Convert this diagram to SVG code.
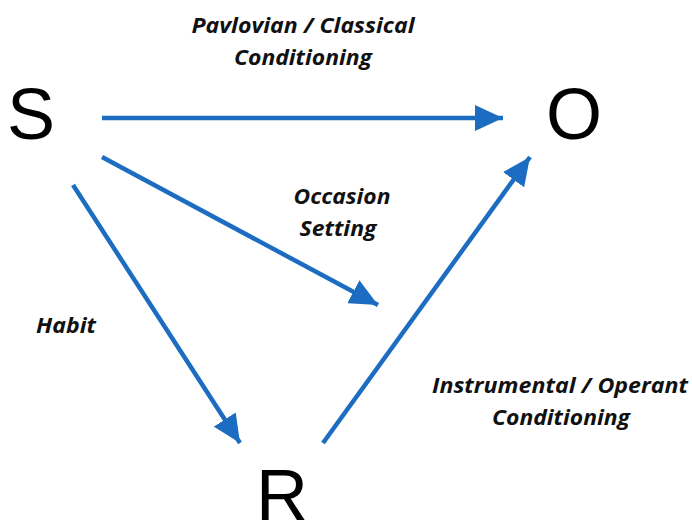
<svg xmlns="http://www.w3.org/2000/svg" width="692" height="521" viewBox="0 0 692 521">
<style>
.big{font-family:"Liberation Sans",Arial,sans-serif;font-size:72px;fill:#000;text-anchor:middle}
.lbl{font-family:"Open Sans","DejaVu Sans",sans-serif;font-size:21px;font-weight:bold;font-style:italic;fill:#111;text-anchor:middle}
.conn{stroke:#1C6DC1;stroke-width:4.5;fill:none;marker-end:url(#ah)}
</style>
<defs>
<marker id="ah" markerUnits="userSpaceOnUse" markerWidth="30" markerHeight="26" refX="28" refY="13" orient="auto" viewBox="0 0 30 26">
<path d="M0,0 L28,13 L0,26 Z" fill="#1C6DC1"/>
</marker>
</defs>
<rect width="692" height="521" fill="#fff"/>
<g id="S"><text class="big" x="31" y="139">S</text></g>
<g id="O"><text class="big" x="574" y="139">O</text></g>
<g id="R"><text class="big" x="282" y="520">R</text></g>
<g id="connectors">
<line class="conn" x1="102" y1="118" x2="503" y2="118"/>
<line class="conn" x1="102" y1="157" x2="378" y2="305"/>
<line class="conn" x1="73" y1="185" x2="240" y2="443"/>
<line class="conn" x1="323" y1="443" x2="530" y2="157"/>
</g>
<g id="labels">
<text class="lbl" x="303" y="33" textLength="223" lengthAdjust="spacingAndGlyphs">Pavlovian / Classical</text>
<text class="lbl" x="303" y="65" textLength="138" lengthAdjust="spacingAndGlyphs">Conditioning</text>
<text class="lbl" x="342" y="204" textLength="97" lengthAdjust="spacingAndGlyphs">Occasion</text>
<text class="lbl" x="338" y="236" textLength="77" lengthAdjust="spacingAndGlyphs">Setting</text>
<text class="lbl" x="66" y="333" textLength="60" lengthAdjust="spacingAndGlyphs">Habit</text>
<text class="lbl" x="560" y="393" textLength="256" lengthAdjust="spacingAndGlyphs">Instrumental / Operant</text>
<text class="lbl" x="561" y="425" textLength="138" lengthAdjust="spacingAndGlyphs">Conditioning</text>
</g>
</svg>
